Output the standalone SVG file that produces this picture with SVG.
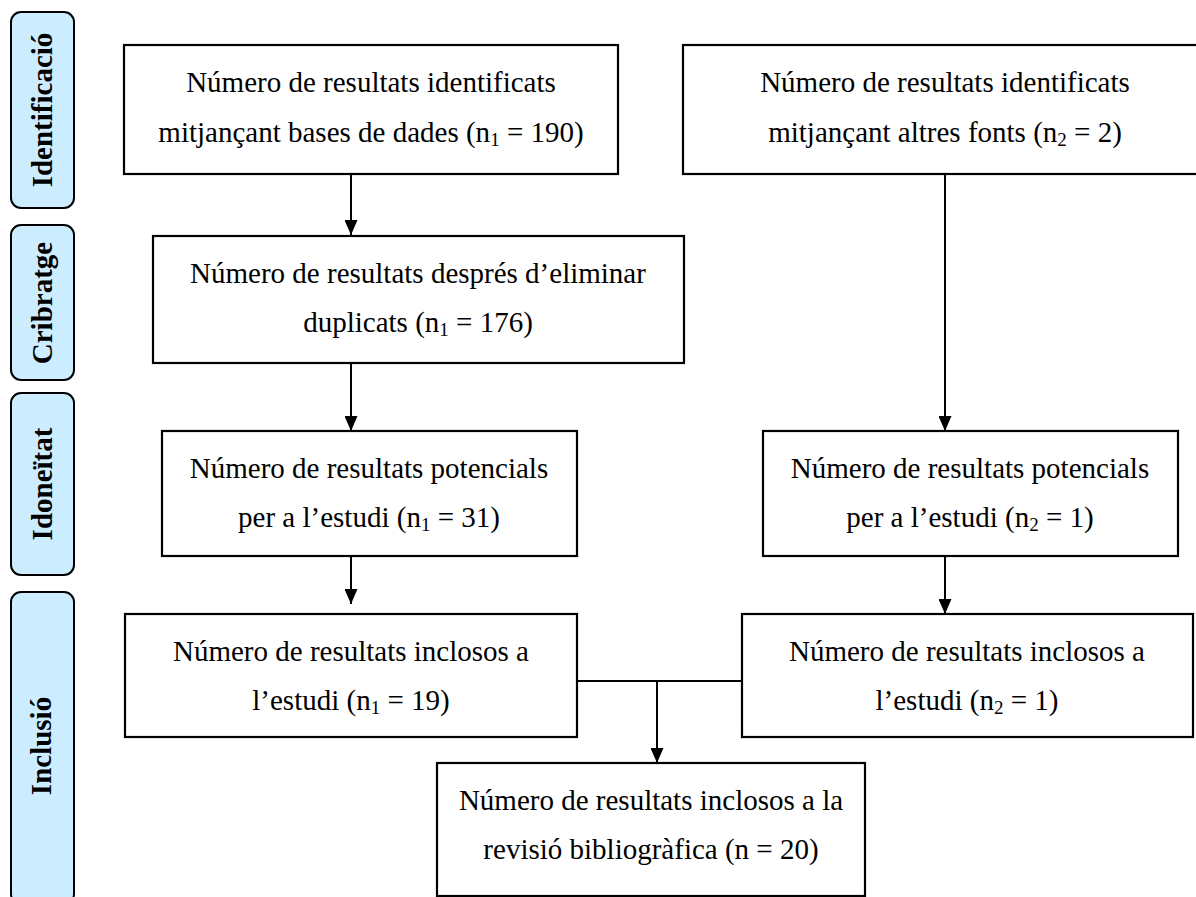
<svg xmlns="http://www.w3.org/2000/svg" width="1196" height="897" viewBox="0 0 1196 897">
<defs>
<style>
.lab{fill:#CCECFF;stroke:#000;stroke-width:2}
.box{fill:#fff;stroke:#000;stroke-width:2.2}
.t{font-family:"Liberation Serif","Times New Roman",serif;font-size:29px;fill:#000;text-anchor:middle}
.lt{font-family:"Liberation Serif","Times New Roman",serif;font-size:29px;font-weight:bold;fill:#000;text-anchor:middle}
.sub{font-size:19px}
.ln{stroke:#000;stroke-width:2;fill:none}
</style>
<marker id="ah" markerUnits="userSpaceOnUse" markerWidth="15" markerHeight="13" refX="15" refY="6.5" orient="auto">
<path d="M0,0 L15,6.5 L0,13 z" fill="#000"/>
</marker>
</defs>
<rect width="1196" height="897" fill="#fff"/>

<g id="stage-identificacio">
<rect class="lab" x="11" y="12" width="63" height="196" rx="10"/>
<text class="lt" transform="translate(52,110) rotate(-90)">Identificació</text>
</g>
<g id="stage-cribratge">
<rect class="lab" x="11" y="225" width="63" height="155" rx="10"/>
<text class="lt" transform="translate(52,303) rotate(-90)">Cribratge</text>
</g>
<g id="stage-idoneitat">
<rect class="lab" x="11" y="393" width="63" height="182" rx="10"/>
<text class="lt" transform="translate(52,484) rotate(-90)">Idoneïtat</text>
</g>
<g id="stage-inclusio">
<rect class="lab" x="11" y="592" width="63" height="312" rx="10"/>
<text class="lt" transform="translate(51,746) rotate(-90)">Inclusió</text>
</g>

<g id="connectors">
<line class="ln" x1="351" y1="174" x2="351" y2="235" marker-end="url(#ah)"/>
<line class="ln" x1="351" y1="363" x2="351" y2="431" marker-end="url(#ah)"/>
<line class="ln" x1="351" y1="556" x2="351" y2="604" marker-end="url(#ah)"/>
<line class="ln" x1="945" y1="174" x2="945" y2="431" marker-end="url(#ah)"/>
<line class="ln" x1="945" y1="556" x2="945" y2="614" marker-end="url(#ah)"/>
<line class="ln" x1="577" y1="681" x2="742" y2="681"/>
<line class="ln" x1="657" y1="681" x2="657" y2="763" marker-end="url(#ah)"/>
</g>

<g id="n-db">
<rect class="box" x="124" y="45" width="494" height="129"/>
<text class="t" x="371" y="92">Número de resultats identificats</text>
<text class="t" x="371" y="142">mitjançant bases de dades (n<tspan class="sub" dy="4">1</tspan><tspan dy="-4"> = 190)</tspan></text>
</g>
<g id="n-other">
<rect class="box" x="683" y="45" width="524" height="129"/>
<text class="t" x="945" y="92">Número de resultats identificats</text>
<text class="t" x="945" y="142">mitjançant altres fonts (n<tspan class="sub" dy="4">2</tspan><tspan dy="-4"> = 2)</tspan></text>
</g>
<g id="n-dup">
<rect class="box" x="153" y="236" width="531" height="127"/>
<text class="t" x="418" y="283">Número de resultats després d’eliminar</text>
<text class="t" x="418" y="332">duplicats (n<tspan class="sub" dy="4">1</tspan><tspan dy="-4"> = 176)</tspan></text>
</g>
<g id="n-pot1">
<rect class="box" x="162" y="431" width="415" height="125"/>
<text class="t" x="369" y="478">Número de resultats potencials</text>
<text class="t" x="369" y="527">per a l’estudi (n<tspan class="sub" dy="4">1</tspan><tspan dy="-4"> = 31)</tspan></text>
</g>
<g id="n-pot2">
<rect class="box" x="763" y="431" width="415" height="125"/>
<text class="t" x="970" y="478">Número de resultats potencials</text>
<text class="t" x="970" y="527">per a l’estudi (n<tspan class="sub" dy="4">2</tspan><tspan dy="-4"> = 1)</tspan></text>
</g>
<g id="n-inc1">
<rect class="box" x="125" y="614" width="452" height="123"/>
<text class="t" x="351" y="661">Número de resultats inclosos a</text>
<text class="t" x="351" y="710">l’estudi (n<tspan class="sub" dy="4">1</tspan><tspan dy="-4"> = 19)</tspan></text>
</g>
<g id="n-inc2">
<rect class="box" x="742" y="614" width="451" height="123"/>
<text class="t" x="967" y="661">Número de resultats inclosos a</text>
<text class="t" x="967" y="710">l’estudi (n<tspan class="sub" dy="4">2</tspan><tspan dy="-4"> = 1)</tspan></text>
</g>
<g id="n-final">
<rect class="box" x="437" y="763" width="428" height="133"/>
<text class="t" x="651" y="810">Número de resultats inclosos a la</text>
<text class="t" x="651" y="859">revisió bibliogràfica (n = 20)</text>
</g>
</svg>
